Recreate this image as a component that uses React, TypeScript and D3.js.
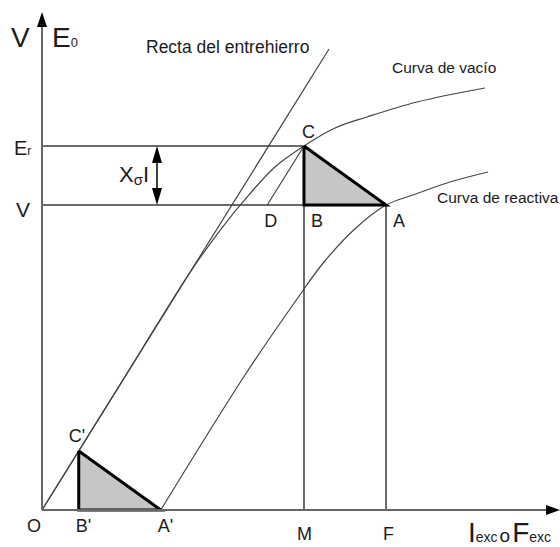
import React from 'react';
import * as d3 from 'd3';

const W = 560;
const H = 547;

// Excitation (x) and EMF (y) in percent of the axis span
const AIR_GAP_LINE: [number, number][] = [[0, 0], [55.95, 92.57]];

const OPEN_CIRCUIT: [number, number][] = [
  [0, 0], [14, 23.16], [28.85, 47.72], [33.3, 54.2], [38.99, 61.65],
  [45.42, 68.88], [51.07, 73.09], [57.12, 76.71], [63.35, 78.92],
  [73.1, 81.93], [86.35, 84.74],
];

const ZERO_PF: [number, number][] = [
  [23.15, 0], [39.57, 27.11], [49.71, 42.37], [54.97, 49.8], [61.4, 56.83],
  [67.06, 61.24], [72.32, 63.25], [79.53, 65.86], [86.94, 67.87],
];

// Potier construction values
const E_R = 73.09; // air-gap emf (point C)
const V_T = 61.24; // terminal voltage (point A)
const I_M = 51.07; // excitation at M
const I_F = 67.06; // excitation at F

const FONT = "'Liberation Sans', Arial, sans-serif";
const INK = '#1c1c1c';
const THIN = '#3a3a3a';

export default function App() {
  const x = d3.scaleLinear().domain([0, 100]).range([42, 555]);
  const y = d3.scaleLinear().domain([0, 100]).range([510, 12]);
  const curve = d3
    .line<[number, number]>()
    .x((d) => x(d[0]))
    .y((d) => y(d[1]))
    .curve(d3.curveCatmullRom.alpha(0.5));
  const straight = d3
    .line<[number, number]>()
    .x((d) => x(d[0]))
    .y((d) => y(d[1]));

  const slope = AIR_GAP_LINE[1][1] / AIR_GAP_LINE[1][0];
  const drop = E_R - V_T; // X_sigma * I
  const shift = I_F - I_M; // armature reaction
  const cP: [number, number] = [drop / slope, drop];
  const bP: [number, number] = [cP[0], 0];
  const aP: [number, number] = [cP[0] + shift, 0];
  const dX = I_M - drop / slope;

  const C: [number, number] = [I_M, E_R];
  const B: [number, number] = [I_M, V_T];
  const A: [number, number] = [I_F, V_T];

  const tri = (p: [number, number][]) => straight([...p, p[0]]) as string;

  const x0 = x(0);
  const y0 = y(0);
  const arrX = x(I_M) - 147; // X_sigma I arrow position

  const lbl = { fontFamily: FONT, fill: INK } as const;

  return (
    <svg
      width={W}
      height={H}
      style={{ position: 'fixed', left: 0, top: 0, background: '#fff' }}
    >
      <rect width={W} height={H} fill="#fff" />

      {/* guide lines */}
      <g stroke={THIN} strokeWidth={1.5} fill="none">
        <line x1={x0} x2={x(I_M)} y1={y(E_R)} y2={y(E_R)} />
        <line x1={x0} x2={x(I_F)} y1={y(V_T)} y2={y(V_T)} />
        <line x1={x(I_M)} x2={x(I_M)} y1={y(E_R)} y2={y0} />
        <line x1={x(I_F)} x2={x(I_F)} y1={y(V_T)} y2={y0} />
      </g>

      {/* characteristic curves */}
      <g stroke="#444" strokeWidth={1.2} fill="none">
        <path d={straight(AIR_GAP_LINE) as string} />
        <path d={curve(OPEN_CIRCUIT) as string} />
        <path d={curve(ZERO_PF) as string} />
        <path d={straight([C, [dX, V_T]]) as string} />
      </g>

      {/* Potier triangles */}
      <g fill="#c6c6c6" stroke="#000" strokeWidth={3} strokeLinejoin="miter">
        <path d={tri([C, B, A])} />
        <path d={tri([cP, bP, aP])} />
      </g>

      {/* axes */}
      <g stroke="#666" strokeWidth={2}>
        <line x1={x0} x2={x0} y1={y0} y2={y(100) + 12} />
        <line x1={x0} x2={x(100) - 4} y1={y0} y2={y0} />
      </g>
      <path
        d={`M${x0},${y(100)} L${x0 - 5},${y(100) + 15} L${x0 + 5},${y(100) + 15} Z`}
        fill="#000"
      />
      <path
        d={`M${x(100) + 5},${y0} L${x(100) - 9},${y0 - 5} L${x(100) - 9},${y0 + 5} Z`}
        fill="#000"
      />

      {/* X_sigma I double arrow */}
      <line x1={arrX} x2={arrX} y1={y(E_R) + 10} y2={y(V_T) - 10} stroke="#000" strokeWidth={1.5} />
      <path
        d={`M${arrX},${y(E_R)} L${arrX - 5},${y(E_R) + 17} L${arrX + 5},${y(E_R) + 17} Z`}
        fill="#000"
      />
      <path
        d={`M${arrX},${y(V_T)} L${arrX - 5},${y(V_T) - 17} L${arrX + 5},${y(V_T) - 17} Z`}
        fill="#000"
      />

      {/* axis titles */}
      <text x={11} y={47} fontSize={28} {...lbl}>V</text>
      <text x={52} y={47} fontSize={28} {...lbl}>
        E<tspan fontSize={13}>0</tspan>
      </text>
      <text x={468} y={542} fontSize={28} {...lbl}>
        I<tspan fontSize={14}>exc</tspan>
        <tspan fontSize={19} dx={2}>o</tspan>
        <tspan fontSize={28} dx={2}>F</tspan>
        <tspan fontSize={14}>exc</tspan>
      </text>

      {/* level labels */}
      <text x={14} y={y(E_R) + 9} fontSize={20} {...lbl}>
        E<tspan fontSize={12}>r</tspan>
      </text>
      <text x={16} y={y(V_T) + 12} fontSize={21} {...lbl}>V</text>
      <text x={119} y={182} fontSize={22} {...lbl}>
        X<tspan fontSize={15} dy={3}>σ</tspan>
        <tspan dy={-3}>I</tspan>
      </text>

      {/* curve names */}
      <text x={146} y={53} fontSize={17.5} {...lbl}>Recta del entrehierro</text>
      <text x={392} y={73} fontSize={15.5} {...lbl}>Curva de vacío</text>
      <text x={437} y={203} fontSize={15.5} {...lbl}>Curva de reactiva</text>

      {/* point labels */}
      <g fontSize={18} {...lbl}>
        <text x={x(I_M) - 2} y={y(E_R) - 8}>C</text>
        <text x={x(dX) - 3} y={y(V_T) + 22}>D</text>
        <text x={x(I_M) + 7} y={y(V_T) + 22}>B</text>
        <text x={x(I_F) + 7} y={y(V_T) + 22}>A</text>
        <text x={x0 - 15} y={y0 + 22}>O</text>
        <text x={x(bP[0]) - 3} y={y0 + 22}>B'</text>
        <text x={x(aP[0]) - 3} y={y0 + 22}>A'</text>
        <text x={x(cP[0]) - 10} y={y(cP[1]) - 9}>C'</text>
        <text x={x(I_M) - 7} y={y0 + 30}>M</text>
        <text x={x(I_F) - 3} y={y0 + 30}>F</text>
      </g>
    </svg>
  );
}
